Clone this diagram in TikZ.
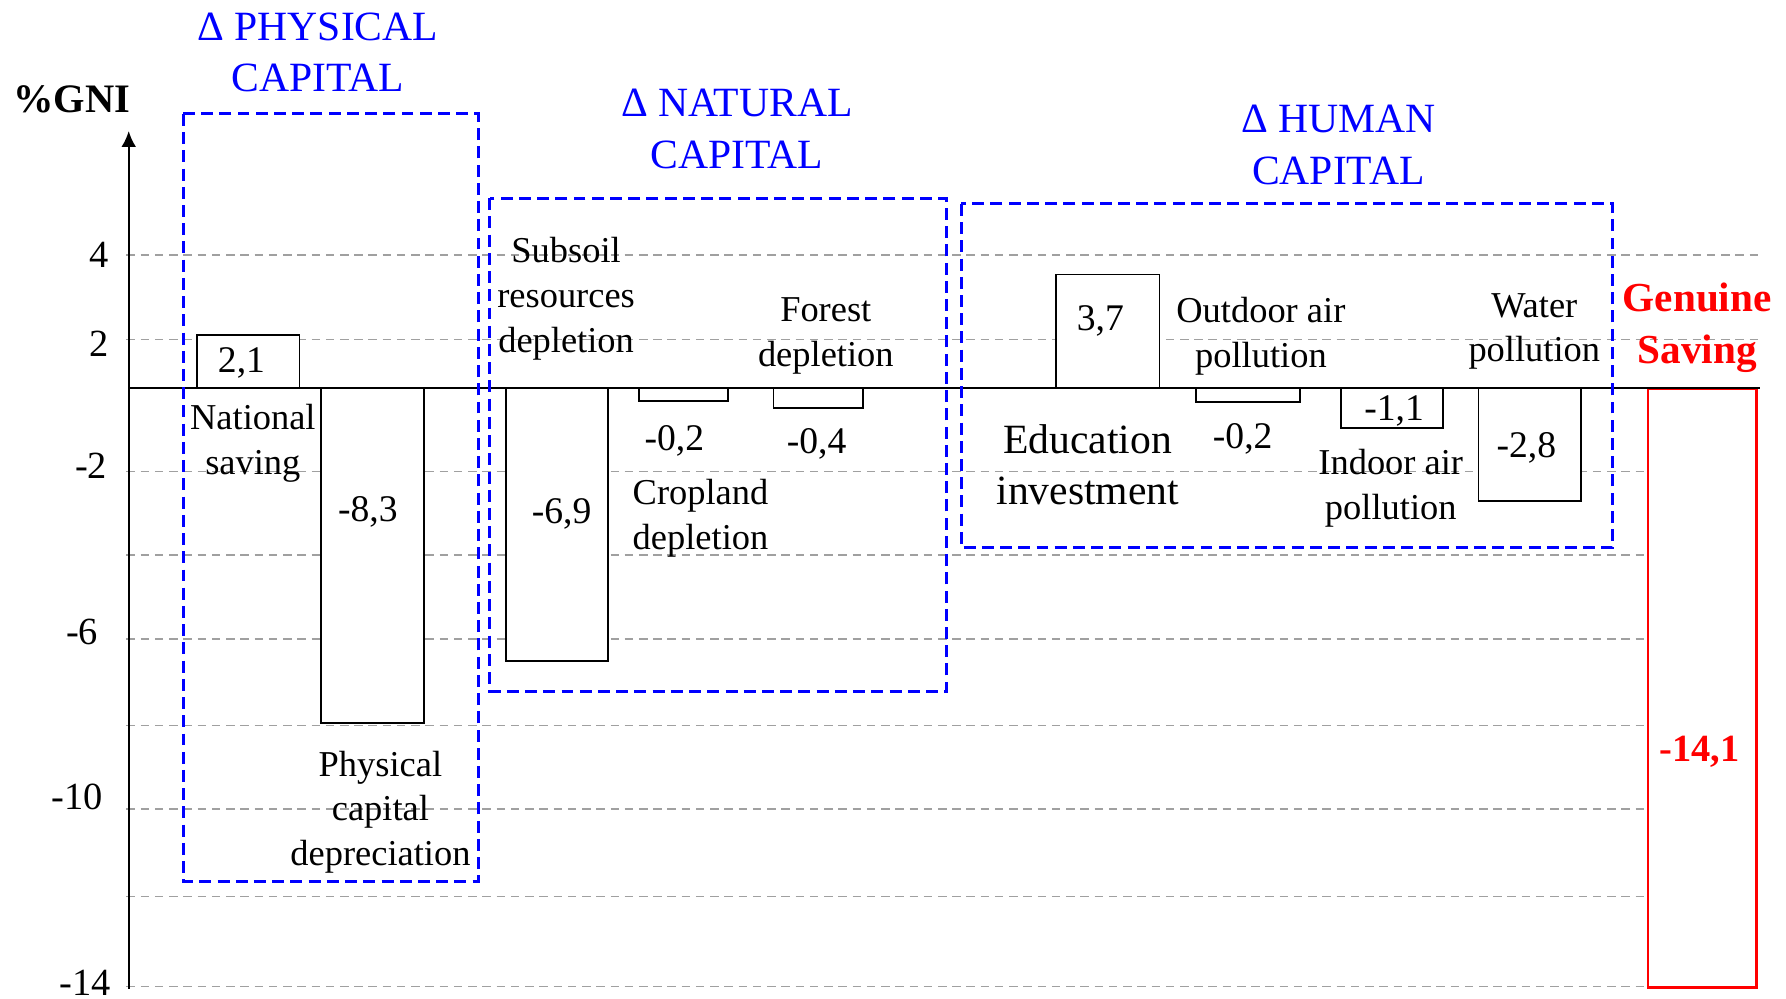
\documentclass[tikz,border=0pt]{standalone}
\usepackage{fontspec}
\setmainfont{Liberation Serif}
\usetikzlibrary{arrows.meta}

\definecolor{gridgray}{HTML}{A0A0A0}
\definecolor{boxblue}{HTML}{0000FF}
\definecolor{savingred}{HTML}{FF0000}

\tikzset{
    gridline/.style={draw=gridgray, line width=0.45pt, dash pattern=on 0.75mm off 0.5mm},
    groupbox/.style={draw=boxblue, line width=0.7pt, dash pattern=on 1.05mm off 0.55mm},
    bar/.style={draw=black, fill=white, line width=0.45pt},
    redbar/.style={draw=savingred, fill=white, line width=0.6pt},
    txt/.style={inner sep=0pt, align=center, font=\fontsize{9.1}{11.2}\selectfont},
    bigtxt/.style={inner sep=0pt, align=center, font=\fontsize{10.4}{12.7}\selectfont},
    num/.style={inner sep=0pt, font=\fontsize{9.4}{11}\selectfont},
    tick/.style={inner sep=0pt, font=\fontsize{9.6}{11}\selectfont},
    grouptitle/.style={inner sep=0pt, align=center, text=boxblue, font=\fontsize{10.4}{12.9}\selectfont},
    redtxt/.style={inner sep=0pt, align=center, text=savingred, font=\bfseries\fontsize{10.3}{13}\selectfont}
}

\begin{document}
\begin{tikzpicture}[x=0.1mm, y=-0.1mm]
        \useasboundingbox (0,0) rectangle (1568,877);

        % Grid lines
        \draw[gridline] (111,224) -- (1545,224);
        \draw[gridline] (111,298) -- (1545,298);
        \draw[gridline] (111,414) -- (1545,414);
        \draw[gridline] (111,487) -- (1545,487);
        \draw[gridline] (111,561) -- (1545,561);
        \draw[gridline] (111,637) -- (1545,637);
        \draw[gridline] (111,710) -- (1545,710);
        \draw[gridline] (111,787) -- (1545,787);
        \draw[gridline] (111,866) -- (1545,866);

        % Bars
        \draw[bar] (173,294) rectangle (263,341);
        \draw[bar] (282,341) rectangle (372,635);
        \draw[bar] (444,341) rectangle (534,580);
        \draw[bar] (561,341) rectangle (639,352);
        \draw[bar] (679,341) rectangle (758,358);
        \draw[bar] (927,241) rectangle (1018,341);
        \draw[bar] (1050,341) rectangle (1141,353);
        \draw[bar] (1177,341) rectangle (1267,376);
        \draw[bar] (1298,341) rectangle (1388,440);
        \draw[redbar] (1447,341) rectangle (1542,867);

        % Zero line and axis
        \coordinate (zeroleft) at (113,341);
        \coordinate (zeroright) at (1545,341);
        \coordinate (axisfoot) at (113,868);
        \coordinate (axistop) at (113,115);
        \draw[line width=0.5pt] (zeroleft) -- (zeroright);
        \draw[line width=0.55pt, -{Latex[length=1.4mm, width=1.3mm]}] (axisfoot) -- (axistop);

        % Capital groups
        \draw[groupbox] (161,100) rectangle (420,774);
        \draw[groupbox] (430,174) rectangle (831,607);
        \draw[groupbox] (844,179) rectangle (1416,481);
        \node[grouptitle] (physical) at (279,46) {Δ PHYSICAL\\CAPITAL};
        \node[grouptitle] (natural) at (647,113) {Δ NATURAL\\CAPITAL};
        \node[grouptitle] (human) at (1175,127) {Δ HUMAN\\CAPITAL};

        % Axis labels
        \node[inner sep=0pt, font=\bfseries\fontsize{10.1}{12}\selectfont] (gni) at (63,87) {\%GNI};
        \node[tick] (t4) at (87,224) {4};
        \node[tick] (t2) at (87,302) {2};
        \node[tick] (tm2) at (80,409) {-2};
        \node[tick] (tm6) at (72,555) {-6};
        \node[tick] (tm10) at (68,700) {-10};
        \node[tick] (tm14) at (75,863) {-14};

        % Values
        \node[num] (vsaving) at (212,319) {2,1};
        \node[num] (vdepr) at (323,449) {-8,3};
        \node[num] (vsubsoil) at (493,451) {-6,9};
        \node[num] (vcrop) at (592,387) {-0,2};
        \node[num] (vforest) at (717,390) {-0,4};
        \node[num] (veduc) at (966,282) {3,7};
        \node[num] (voutdoor) at (1091,385) {-0,2};
        \node[num] (vindoor) at (1224,361) {-1,1};
        \node[num] (vwater) at (1340,393) {-2,8};
        \node[inner sep=0pt, text=savingred, font=\bfseries\fontsize{9.6}{11}\selectfont] (vgenuine) at (1492,660) {-14,1};

        % Bar names
        \node[txt] (saving) at (222,389) {National\\saving};
        \node[txt] (depr) at (334,713) {Physical\\capital\\depreciation};
        \node[txt] (subsoil) at (497,262) {Subsoil\\resources\\depletion};
        \node[txt] (crop) at (615,455) {Cropland\\depletion};
        \node[txt] (forest) at (725,295) {Forest\\depletion};
        \node[bigtxt] (educ) at (955,408) {Education\\investment};
        \node[txt] (outdoor) at (1107,295) {Outdoor air\\pollution};
        \node[txt] (indoor) at (1221,429) {Indoor air\\pollution};
        \node[txt] (water) at (1347,291) {Water\\pollution};
        \node[redtxt] (genuine) at (1490,288) {Genuine\\Saving};
\end{tikzpicture}
\end{document}
